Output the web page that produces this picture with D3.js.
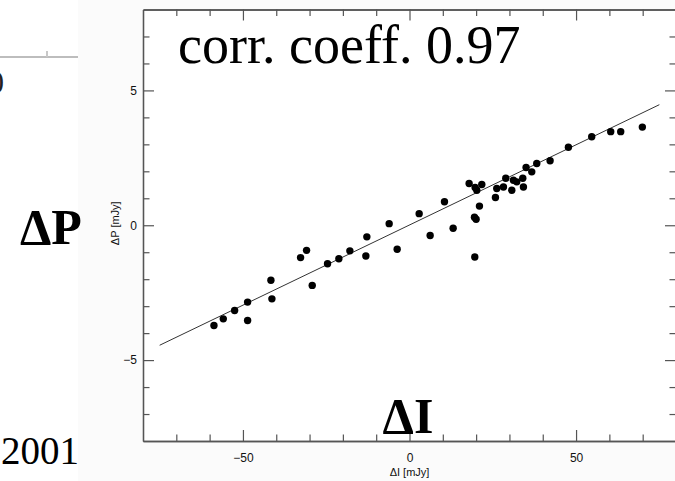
<!DOCTYPE html>
<html>
<head>
<meta charset="utf-8">
<script src="https://cdn.jsdelivr.net/npm/d3@7"></script>
<style>
  html, body { margin: 0; padding: 0; background: #fff; }
  svg { display: block; }
</style>
</head>
<body>
<svg id="chart" width="675" height="481"></svg>
<script>
// Intensity change vs. polarized-flux change, both in mJy
const dI = [
  -58.7, -55.9, -52.5, -48.6, -48.6, -41.6, -41.3, -32.7, -30.9, -29.2,
  -24.6, -21.2, -17.9, -13.1, -12.8, -6.1, -3.7, 2.9, 6.2, 10.5,
  13.1, 17.9, 19.7, 21.7, 20.2, 26.2, 28.2, 28.9, 30.7, 31.2,
  32.2, 34.0, 34.2, 35.0, 36.7, 38.2, 25.8, 21.0, 19.5, 20.0,
  19.6, 42.2, 47.7, 54.7, 60.4, 63.4, 69.9
];
const dP = [
  -3.72, -3.47, -3.16, -2.85, -3.53, -2.04, -2.73, -1.20, -0.93, -2.23,
  -1.43, -1.24, -0.95, -1.14, -0.43, 0.06, -0.89, 0.43, -0.38, 0.87,
  -0.11, 1.55, 1.40, 1.51, 1.30, 1.36, 1.42, 1.74, 1.30, 1.67,
  1.61, 1.74, 1.42, 2.14, 1.98, 2.29, 1.03, 0.71, 0.30, 0.22,
  -1.18, 2.39, 2.89, 3.28, 3.47, 3.47, 3.64
];

// Linear fit endpoints
const fitX = [-75, 75];
const fitY = [-4.45, 4.47];

// Axis ranges and ticks
const xDomain = [-80, 80];
const yDomain = [-8, 8];
const xMajor = [-50, 0, 50];
const xMinor = [-70, -60, -40, -30, -20, -10, 10, 20, 30, 40, 60, 70];
const yMajor = [-5, 0, 5];
const yMinor = [-7, -6, -4, -3, -2, -1, 1, 2, 3, 4, 6, 7];

const titleText = "corr. coeff. 0.97";
const xTitle = "\u0394I [mJy]";
const yTitle = "\u0394P [mJy]";

const svg = d3.select("#chart");
const serif = "Liberation Serif, Times New Roman, serif";

// light backdrop of the plot panel
svg.append("rect").attr("x", 78).attr("y", 0).attr("width", 597).attr("height", 481)
  .attr("fill", "#fbfbfb");

// fragments at the left margin
svg.append("line").attr("x1", 0).attr("x2", 78).attr("y1", 57).attr("y2", 57)
  .attr("stroke", "#bdbdbd").attr("stroke-width", 2);
svg.append("line").attr("x1", 47).attr("x2", 47).attr("y1", 51).attr("y2", 57)
  .attr("stroke", "#c8c8c8").attr("stroke-width", 2);
svg.append("text").attr("x", 4).attr("y", 93).attr("text-anchor", "end")
  .attr("font-family", serif).attr("font-size", 31).attr("fill", "#222").text("0");
svg.append("text").attr("x", 79).attr("y", 464).attr("text-anchor", "end")
  .attr("font-family", serif).attr("font-size", 39).attr("fill", "#000").text("2001");

const plotL = 143, plotR = 676, plotT = 9.5, plotB = 441;
const x = d3.scaleLinear().domain(xDomain).range([plotL, plotR]);
const y = d3.scaleLinear().domain(yDomain).range([plotB, plotT]);

svg.append("rect").attr("x", plotL).attr("y", plotT).attr("width", plotR - plotL).attr("height", plotB - plotT)
  .attr("fill", "#fff");

const axisColor = "#555";
const tickFont = "Liberation Sans, Arial, sans-serif";

function styleAxis(g) {
  g.selectAll("path.domain").attr("stroke", axisColor).attr("stroke-width", 1.3);
  g.selectAll(".tick line").attr("stroke", axisColor).attr("stroke-width", 1.2);
  g.selectAll(".tick text").attr("font-family", tickFont).attr("font-size", 12).attr("fill", "#111");
}

const fmt = d => d < 0 ? "\u2212" + Math.abs(d) : d;

// bottom axis
const gB = svg.append("g").attr("transform", `translate(0,${plotB})`)
  .call(d3.axisBottom(x).tickValues(xMajor).tickSize(-11).tickSizeOuter(0).tickPadding(12).tickFormat(fmt));
styleAxis(gB);
const gBm = svg.append("g").attr("transform", `translate(0,${plotB})`)
  .call(d3.axisBottom(x).tickValues(xMinor).tickSize(-6.5).tickSizeOuter(0).tickFormat(""));
styleAxis(gBm);

// top axis
const gT = svg.append("g").attr("transform", `translate(0,${plotT})`)
  .call(d3.axisTop(x).tickValues(xMajor).tickSize(-11).tickSizeOuter(0).tickFormat(""));
styleAxis(gT);
const gTm = svg.append("g").attr("transform", `translate(0,${plotT})`)
  .call(d3.axisTop(x).tickValues(xMinor).tickSize(-6.5).tickSizeOuter(0).tickFormat(""));
styleAxis(gTm);

// left axis
const gL = svg.append("g").attr("transform", `translate(${plotL},0)`)
  .call(d3.axisLeft(y).tickValues(yMajor).tickSize(-11).tickSizeOuter(0).tickPadding(6).tickFormat(fmt));
styleAxis(gL);
const gLm = svg.append("g").attr("transform", `translate(${plotL},0)`)
  .call(d3.axisLeft(y).tickValues(yMinor).tickSize(-6.5).tickSizeOuter(0).tickFormat(""));
styleAxis(gLm);

// right axis
const gR = svg.append("g").attr("transform", `translate(${plotR},0)`)
  .call(d3.axisRight(y).tickValues(yMajor).tickSize(-11).tickSizeOuter(0).tickFormat(""));
styleAxis(gR);
const gRm = svg.append("g").attr("transform", `translate(${plotR},0)`)
  .call(d3.axisRight(y).tickValues(yMinor).tickSize(-6.5).tickSizeOuter(0).tickFormat(""));
styleAxis(gRm);

// axis titles
svg.append("text").attr("x", x(0)).attr("y", 476).attr("text-anchor", "middle")
  .attr("font-family", tickFont).attr("font-size", 11).attr("fill", "#111").text(xTitle);
svg.append("text").attr("transform", `translate(119,${y(0) - 2}) rotate(-90)`).attr("text-anchor", "middle")
  .attr("font-family", tickFont).attr("font-size", 11).attr("fill", "#111").text(yTitle);

// fit line
const pts = fitX.map((v, i) => [v, fitY[i]]);
svg.append("path").datum(pts)
  .attr("d", d3.line().x(d => x(d[0])).y(d => y(d[1])))
  .attr("fill", "none").attr("stroke", "#333").attr("stroke-width", 1);

// data points
svg.append("g").selectAll("circle").data(dI.map((v, i) => [v, dP[i]])).join("circle")
  .attr("cx", d => x(d[0])).attr("cy", d => y(d[1])).attr("r", 3.7).attr("fill", "#000");

// large annotations
svg.append("text").attr("x", 178).attr("y", 63)
  .attr("font-family", serif).attr("font-size", 54).attr("fill", "#000").text(titleText);
svg.append("text").attr("x", 408).attr("y", 433).attr("text-anchor", "middle")
  .attr("font-family", serif).attr("font-size", 50).attr("font-weight", "bold")
  .attr("fill", "#000").text("\u0394I");
svg.append("text").attr("x", 20).attr("y", 244)
  .attr("font-family", serif).attr("font-size", 50).attr("font-weight", "bold")
  .attr("fill", "#000").text("\u0394P");
</script>
</body>
</html>
